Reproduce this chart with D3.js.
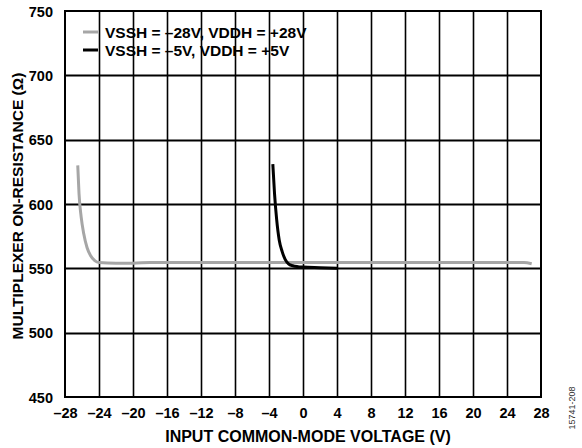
<!DOCTYPE html>
<html><head><meta charset="utf-8">
<script src="https://cdn.jsdelivr.net/npm/d3@7"></script>
<style>body{margin:0;background:#fff}svg{display:block;font-family:"Liberation Sans",Arial,sans-serif}</style>
</head><body><div id="c"></div>
<script>
const xTicks = [-28,-24,-20,-16,-12,-8,-4,0,4,8,12,16,20,24,28];
const yTicks = [450,500,550,600,650,700,750];
const seriesNames = ["VSSH = \u201328V, VDDH = +28V","VSSH = \u20135V, VDDH = +5V"];
const seriesColors = ["#a6a6a6","#000000"];
const grayX = [-26.5,-26.35,-26.1,-25.8,-25.4,-25.0,-24.5,-24,-22,-20,-18,-16,-8,0,8,16,24,26,26.9];
const grayY = [630,608,590,577,566,560,556,554.5,554,554,554.5,554.5,554.5,554.5,554.5,554.5,554.5,554.5,553.5];
const blackX = [-3.55,-3.35,-3.1,-2.8,-2.45,-2.1,-1.7,-1.2,-0.6,0,2,4];
const blackY = [631,608,588,572,563,557,553.5,552,551.3,551,550.5,550];
const series = [grayX.map((v,i)=>[v,grayY[i]]), blackX.map((v,i)=>[v,blackY[i]])];

const W=582,H=448, L=65, R=541, T=11, B=397;
const svg=d3.select("#c").append("svg").attr("width",W).attr("height",H);
const xs=d3.scaleLinear().domain([-28,28]).range([L,R]);
const ys=d3.scaleLinear().domain([450,750]).range([B,T]);

// grid: vertical and horizontal via path built from scales
const vPath=d3.path();
xTicks.slice(1,-1).forEach(v=>{const px=Math.round(xs(v))+0.5; vPath.moveTo(px,T); vPath.lineTo(px,B);});
const hPath=d3.path();
yTicks.slice(1,-1).forEach(v=>{const py=Math.round(ys(v))+0.5; hPath.moveTo(L,py); hPath.lineTo(R,py);});
svg.append("path").attr("d",vPath.toString()).attr("stroke","#000").attr("stroke-width",1.6).attr("fill","none");
svg.append("path").attr("d",hPath.toString()).attr("stroke","#000").attr("stroke-width",1.8).attr("fill","none");

// tick labels
const xa=svg.append("g").attr("transform",`translate(0,${B})`)
  .call(d3.axisBottom(xs).tickValues(xTicks).tickSize(0).tickPadding(0).tickFormat(d=>d<0?"\u2013"+Math.abs(d):d));
const ya=svg.append("g").attr("transform",`translate(${L},0)`)
  .call(d3.axisLeft(ys).tickValues(yTicks).tickSize(0).tickPadding(12));
[xa,ya].forEach(a=>{a.select(".domain").remove();a.selectAll("text").attr("font-size",14.5).attr("font-weight","bold").attr("fill","#000").attr("font-family","Liberation Sans, Arial, sans-serif");});
xa.selectAll("text").attr("y",20.5).attr("dy",0);
ya.selectAll("text").attr("dy","0.36em");

// lines
const line=d3.line().x(d=>xs(d[0])).y(d=>ys(d[1])).curve(d3.curveMonotoneX);
svg.append("g").selectAll("path").data(series).join("path")
  .attr("d",line).attr("fill","none").attr("stroke",(d,i)=>seriesColors[i]).attr("stroke-width",3).attr("stroke-linejoin","round");

// frame
svg.append("rect").attr("x",L).attr("y",T).attr("width",R-L).attr("height",B-T)
  .attr("fill","none").attr("stroke","#000").attr("stroke-width",2);

// legend
const lg=svg.append("g");
seriesNames.forEach((n,i)=>{
  const yy=32+i*18;
  lg.append("line").attr("x1",83).attr("x2",98).attr("y1",yy).attr("y2",yy).attr("stroke",seriesColors[i]).attr("stroke-width",3);
  lg.append("text").attr("x",105).attr("y",yy).attr("dy","0.36em").attr("font-size",15.5).attr("font-weight","bold").text(n);
});

// axis titles
svg.append("text").attr("x",308).attr("y",442).attr("text-anchor","middle").attr("font-size",16).attr("font-weight","bold").text("INPUT COMMON-MODE VOLTAGE (V)");
svg.append("text").attr("transform",`translate(23,206) rotate(-90)`).attr("text-anchor","middle").attr("font-size",15.5).attr("font-weight","bold").text("MULTIPLEXER ON-RESISTANCE (\u03A9)");
svg.append("text").attr("transform",`translate(575,408) rotate(-90)`).attr("text-anchor","middle").attr("font-size",9).attr("fill","#333").text("15741-208");
</script></body></html>
